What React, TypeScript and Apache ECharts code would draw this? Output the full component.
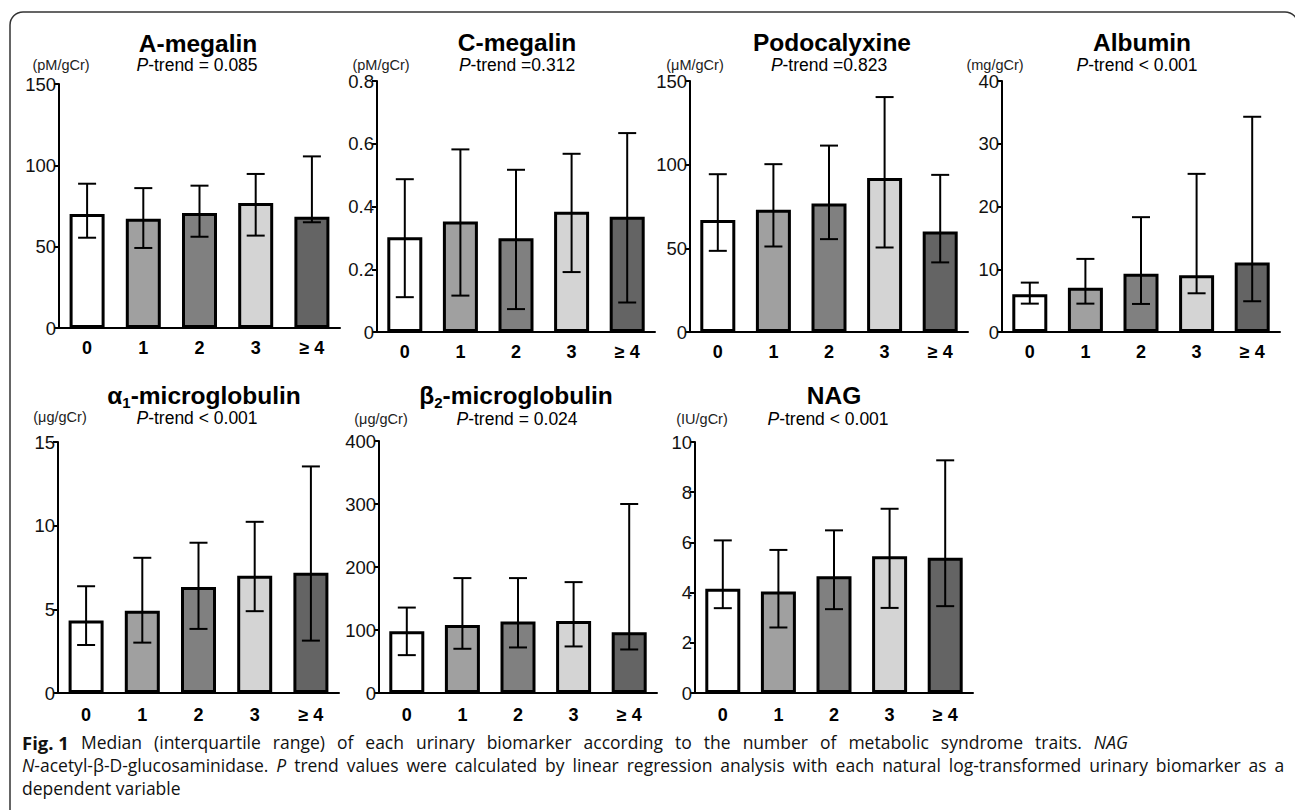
import React, { useEffect, useRef } from "react";
import * as echarts from "echarts";

// ---------- DATA ----------
const categories = ["0", "1", "2", "3", "≥ 4"];

const aMegalinMedian = [70.1, 67.2, 70.7, 76.8, 68.4];
const aMegalinQ1 = [55.5, 49.2, 56.1, 56.8, 65.0];
const aMegalinQ3 = [88.7, 86.0, 87.5, 94.7, 105.5];

const cMegalinMedian = [0.302, 0.352, 0.299, 0.383, 0.367];
const cMegalinQ1 = [0.111, 0.116, 0.073, 0.191, 0.094];
const cMegalinQ3 = [0.487, 0.582, 0.517, 0.568, 0.634];

const podoMedian = [67.0, 73.0, 76.8, 92.1, 60.1];
const podoQ1 = [48.5, 51.1, 55.5, 50.5, 41.6];
const podoQ3 = [94.3, 100.3, 111.4, 140.4, 93.9];

const albuminMedian = [6.0, 7.07, 9.3, 9.04, 11.06];
const albuminQ1 = [4.52, 4.52, 4.47, 6.17, 4.9];
const albuminQ3 = [7.87, 11.65, 18.3, 25.2, 34.3];

const a1mMedian = [4.33, 4.92, 6.34, 7.0, 7.18];
const a1mQ1 = [2.87, 3.01, 3.83, 4.89, 3.13];
const a1mQ3 = [6.38, 8.08, 8.98, 10.23, 13.54];

const b2mMedian = [97.9, 108, 113.3, 114.4, 96.3];
const b2mQ1 = [60.1, 70.2, 72.3, 73.9, 69.1];
const b2mQ3 = [135.6, 182.4, 182.4, 176, 300];

const nagMedian = [4.15, 4.04, 4.65, 5.45, 5.39];
const nagQ1 = [3.38, 2.61, 3.34, 3.39, 3.46];
const nagQ3 = [6.08, 5.7, 6.48, 7.34, 9.27];

const yMax = [150, 0.8, 150, 40, 15, 400, 10];
const yInterval = [50, 0.2, 50, 10, 5, 100, 2];

const titles = ["A-megalin", "C-megalin", "Podocalyxine", "Albumin", "α|1|-microglobulin", "β|2|-microglobulin", "NAG"];
const pTrends = ["= 0.085", "=0.312", "=0.823", "< 0.001", "< 0.001", "= 0.024", "< 0.001"];
const units = ["(pM/gCr)", "(pM/gCr)", "(μM/gCr)", "(mg/gCr)", "(μg/gCr)", "(μg/gCr)", "(IU/gCr)"];

const medians = [aMegalinMedian, cMegalinMedian, podoMedian, albuminMedian, a1mMedian, b2mMedian, nagMedian];
const q1s = [aMegalinQ1, cMegalinQ1, podoQ1, albuminQ1, a1mQ1, b2mQ1, nagQ1];
const q3s = [aMegalinQ3, cMegalinQ3, podoQ3, albuminQ3, a1mQ3, b2mQ3, nagQ3];

const captionLine1Words = ["Median", "(interquartile", "range)", "of", "each", "urinary", "biomarker", "according", "to", "the", "number", "of", "metabolic", "syndrome", "traits."];
const captionLine2Words = ["trend", "values", "were", "calculated", "by", "linear", "regression", "analysis", "with", "each", "natural", "log-transformed", "urinary", "biomarker", "as", "a"];
const captionLine3 = "dependent variable";

// ---------- LAYOUT / STYLE ----------
const barColors = ["#ffffff", "#a0a0a0", "#808080", "#d4d4d4", "#646464"];
const grids = [
  { left: 59, top: 84, width: 281, height: 244 },
  { left: 377, top: 81, width: 278, height: 251 },
  { left: 690, top: 81, width: 278, height: 251 },
  { left: 1002, top: 81, width: 278, height: 251 },
  { left: 58, top: 442, width: 281, height: 251 },
  { left: 379, top: 441, width: 278, height: 252 },
  { left: 695, top: 442, width: 278, height: 251 },
];
const labelMargin = [11, 11, 11, 11, 13, 13, 13];
const titlePos = [
  [198, 43], [517, 42], [832, 42], [1142, 42], [204, 395], [516, 395], [834, 395],
];
const subPos = [
  [197, 65], [517, 65], [829, 65], [1137, 65], [197, 418], [517, 419], [828, 419],
];
const unitPos = [
  [61, 65], [381, 65], [695, 65], [995, 65], [60, 417], [381, 419], [702, 419],
];

const FONT = "'Liberation Sans', Arial, sans-serif";
const CAP_FONT = "'Open Sans', 'Noto Sans', sans-serif";

export default function App() {
  const ref = useRef<HTMLDivElement>(null);

  useEffect(() => {
    document.body.style.margin = "0";
    if (!ref.current) return;
    const chart = echarts.init(ref.current, undefined, { renderer: "svg" });

    const xAxis: any[] = [];
    const yAxis: any[] = [];
    const series: any[] = [];
    const graphic: any[] = [];

    grids.forEach((g, i) => {
      xAxis.push({
        type: "category",
        gridIndex: i,
        data: categories,
        axisLine: { lineStyle: { color: "#000", width: 2 } },
        axisTick: { alignWithLabel: true, length: 5, lineStyle: { color: "#000", width: 2 } },
        axisLabel: { fontFamily: FONT, fontSize: 18, fontWeight: "bold", color: "#000", margin: labelMargin[i] },
      });
      yAxis.push({
        type: "value",
        gridIndex: i,
        min: 0,
        max: yMax[i],
        interval: yInterval[i],
        splitLine: { show: false },
        axisLine: { show: true, lineStyle: { color: "#000", width: 2 } },
        axisTick: { show: true, length: 5, lineStyle: { color: "#000", width: 2 } },
        axisLabel: { fontFamily: FONT, fontSize: 18.5, color: "#111", margin: 3 },
      });
      series.push({
        type: "bar",
        xAxisIndex: i,
        yAxisIndex: i,
        barWidth: 35,
        data: medians[i].map((v, k) => ({
          value: v,
          itemStyle: { color: barColors[k], borderColor: "#000", borderWidth: 3 },
        })),
        z: 2,
      });
      series.push({
        type: "custom",
        xAxisIndex: i,
        yAxisIndex: i,
        z: 3,
        data: medians[i].map((_, k) => [k, q1s[i][k], q3s[i][k]]),
        encode: { x: 0, y: [1, 2] },
        renderItem: (params: any, api: any) => {
          const idx = api.value(0);
          const lo = api.coord([idx, api.value(1)]);
          const hi = api.coord([idx, api.value(2)]);
          const hw = 9;
          const st = { stroke: "#000", lineWidth: 2 };
          return {
            type: "group",
            children: [
              { type: "line", shape: { x1: lo[0], y1: lo[1], x2: hi[0], y2: hi[1] }, style: st },
              { type: "line", shape: { x1: hi[0] - hw, y1: hi[1], x2: hi[0] + hw, y2: hi[1] }, style: st },
              { type: "line", shape: { x1: lo[0] - hw, y1: lo[1], x2: lo[0] + hw, y2: lo[1] }, style: st },
            ],
          };
        },
      });

      const parts = titles[i].split("|");
      const titleText =
        parts.length === 3 ? `{b|${parts[0]}}{s|${parts[1]}}{b|${parts[2]}}` : `{b|${parts[0]}}`;
      graphic.push({
        type: "text",
        x: titlePos[i][0],
        y: titlePos[i][1],
        style: {
          text: titleText,
          align: "center",
          verticalAlign: "middle",
          rich: {
            b: { fontFamily: FONT, fontSize: 24.5, fontWeight: "bold", fill: "#000", lineHeight: 30, verticalAlign: "middle" },
            s: { fontFamily: FONT, fontSize: 15, fontWeight: "bold", fill: "#000", lineHeight: 15, verticalAlign: "bottom" },
          },
        },
      });
      graphic.push({
        type: "text",
        x: subPos[i][0],
        y: subPos[i][1],
        style: {
          text: `{i|P}{n|-trend ${pTrends[i]}}`,
          align: "center",
          verticalAlign: "middle",
          rich: {
            i: { fontFamily: FONT, fontSize: 17.5, fontStyle: "italic", fill: "#000" },
            n: { fontFamily: FONT, fontSize: 17.5, fill: "#000" },
          },
        },
      });
      graphic.push({
        type: "text",
        x: unitPos[i][0],
        y: unitPos[i][1],
        style: {
          text: units[i],
          align: "center",
          verticalAlign: "middle",
          fontFamily: FONT,
          fontSize: 14.5,
          fill: "#222",
        },
      });
    });

    // outer frame
    graphic.push({
      type: "rect",
      shape: { x: 10, y: 12, width: 1288, height: 900, r: 13 },
      style: { fill: "none", stroke: "#333", lineWidth: 1.5 },
      z: -1,
    });

    // caption
    const gap1 = 12;
    const gap2 = 7.9;
    const fs = 17.5;
    const capRich = {
      fb: { fontFamily: CAP_FONT, fontSize: 18.5, fontWeight: "bold", fill: "#111", padding: [0, 12, 0, 0] },
      n: { fontFamily: CAP_FONT, fontSize: fs, fill: "#111" },
      it: { fontFamily: CAP_FONT, fontSize: fs, fontStyle: "italic", fill: "#111" },
      g1: { fontFamily: CAP_FONT, fontSize: fs, fill: "#111", padding: [0, gap1, 0, 0] },
      itg: { fontFamily: CAP_FONT, fontSize: fs, fontStyle: "italic", fill: "#111", padding: [0, gap2, 0, 0] },
      g2: { fontFamily: CAP_FONT, fontSize: fs, fill: "#111", padding: [0, gap2, 0, 0] },
    };
    const line1 =
      "{fb|Fig. 1}" + captionLine1Words.map((w) => `{g1|${w}}`).join("") + "{it|NAG}";
    const line2 =
      "{it|N}{g2|-acetyl-β-D-glucosaminidase.}{itg|P}" +
      captionLine2Words
        .map((w, k) => (k === captionLine2Words.length - 1 ? `{n|${w}}` : `{g2|${w}}`))
        .join("");
    const capLines = [line1, line2, `{n|${captionLine3}}`];
    const capY = [742, 765, 788];
    capLines.forEach((t, k) => {
      graphic.push({
        type: "text",
        x: 22,
        y: capY[k],
        style: { text: t, align: "left", verticalAlign: "middle", rich: capRich },
      });
    });

    chart.setOption({
      animation: false,
      backgroundColor: "#fff",
      grid: grids.map((g) => ({ ...g, containLabel: false })),
      xAxis,
      yAxis,
      series,
      graphic,
    });

    return () => chart.dispose();
  }, []);

  return <div ref={ref} style={{ width: 1295, height: 810 }} />;
}
